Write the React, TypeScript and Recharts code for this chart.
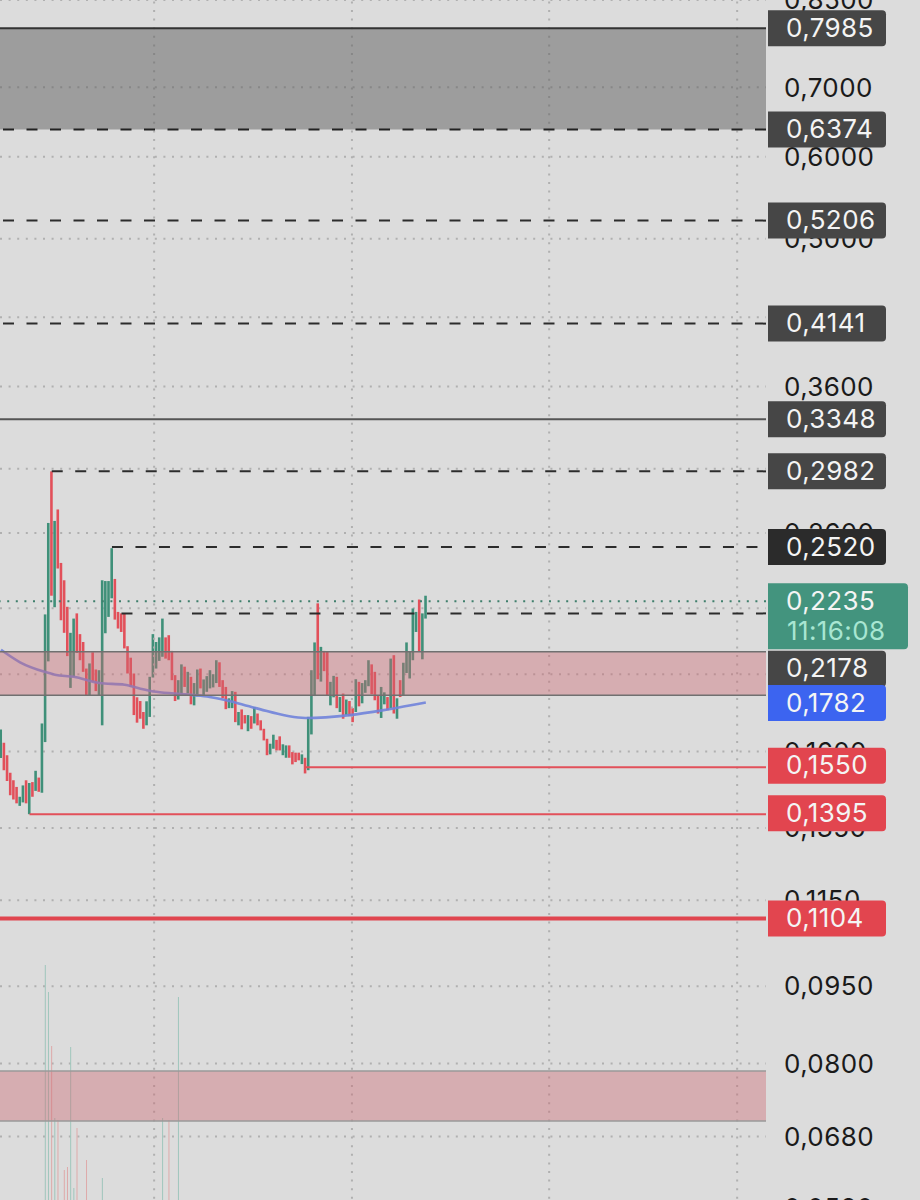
import React from 'react'
import { Bar, CartesianGrid, Cell, ComposedChart, Line, ReferenceArea, ReferenceLine, XAxis, YAxis } from 'recharts'

// prices, one entry per bar, oldest first
const candleHigh = [
  0.1680, 0.1632, 0.1587, 0.1526, 0.1501, 0.1479, 0.1447, 0.1484, 0.1501, 0.1492,
  0.1495, 0.1533, 0.1510, 0.1703, 0.2170, 0.2659, 0.2982, 0.2671, 0.2740, 0.2433,
  0.2341, 0.2207, 0.2083, 0.2150, 0.2175, 0.2077, 0.2041, 0.1924, 0.1946, 0.1995,
  0.1920, 0.1917, 0.2341, 0.2337, 0.2337, 0.2514, 0.2348, 0.2182, 0.2175, 0.2175,
  0.2022, 0.1971, 0.1903, 0.1805, 0.1790, 0.1747, 0.1789, 0.1889, 0.2077, 0.2041,
  0.2062, 0.2150, 0.2062, 0.2072, 0.2001, 0.1896, 0.1875, 0.1942, 0.1932, 0.1910,
  0.1889, 0.1863, 0.1920, 0.1924, 0.1878, 0.1892, 0.1917, 0.1900, 0.1960, 0.1951,
  0.1875, 0.1847, 0.1801, 0.1830, 0.1827, 0.1747, 0.1757, 0.1735, 0.1735, 0.1731,
  0.1766, 0.1741, 0.1715, 0.1683, 0.1646, 0.1628, 0.1661, 0.1642, 0.1655, 0.1626,
  0.1622, 0.1622, 0.1598, 0.1596, 0.1596, 0.1590, 0.1578, 0.1728, 0.1917, 0.2039,
  0.2224, 0.2019, 0.2001, 0.1997, 0.1868, 0.1893, 0.1889, 0.1806, 0.1820, 0.1796,
  0.1790, 0.1762, 0.1879, 0.1868, 0.1863, 0.1875, 0.1960, 0.1942, 0.1910, 0.1813,
  0.1847, 0.1825, 0.1806, 0.1967, 0.1982, 0.1801, 0.1875, 0.1949, 0.2039, 0.1997,
  0.2199, 0.2182, 0.2243, 0.2175, 0.2262,
]
const candleLow = [
  0.1577, 0.1535, 0.1499, 0.1452, 0.1438, 0.1426, 0.1418, 0.1429, 0.1426, 0.1392,
  0.1447, 0.1466, 0.1463, 0.1460, 0.1634, 0.1955, 0.2262, 0.2205, 0.2403, 0.2142,
  0.2083, 0.1978, 0.1843, 0.1889, 0.1992, 0.1960, 0.1910, 0.1813, 0.1813, 0.1868,
  0.1830, 0.1813, 0.1696, 0.2081, 0.2158, 0.2249, 0.2145, 0.2103, 0.2087, 0.2012,
  0.1903, 0.1847, 0.1735, 0.1706, 0.1721, 0.1683, 0.1696, 0.1728, 0.1886, 0.1924,
  0.1957, 0.1975, 0.1967, 0.1960, 0.1875, 0.1790, 0.1796, 0.1817, 0.1847, 0.1820,
  0.1777, 0.1773, 0.1809, 0.1841, 0.1813, 0.1827, 0.1841, 0.1845, 0.1863, 0.1847,
  0.1801, 0.1758, 0.1762, 0.1762, 0.1708, 0.1696, 0.1681, 0.1703, 0.1674, 0.1683,
  0.1703, 0.1696, 0.1677, 0.1640, 0.1587, 0.1590, 0.1610, 0.1604, 0.1604, 0.1587,
  0.1578, 0.1578, 0.1555, 0.1563, 0.1569, 0.1556, 0.1524, 0.1535, 0.1662, 0.1810,
  0.1879, 0.1869, 0.1913, 0.1813, 0.1773, 0.1805, 0.1762, 0.1747, 0.1721, 0.1735,
  0.1731, 0.1708, 0.1747, 0.1769, 0.1781, 0.1823, 0.1850, 0.1817, 0.1793, 0.1741,
  0.1724, 0.1777, 0.1754, 0.1762, 0.1741, 0.1721, 0.1806, 0.1813, 0.1905, 0.1882,
  0.1960, 0.2087, 0.1997, 0.1964, 0.2150,
]
const candleSide = 'grrrrrggrgrgrgggrgrrrrggrrrrgrrgggggrrrrrrrrrrggggggrrrrggrgrggrgggggrrrggrgrrgrgrrrrggrrggrrrrgrgggrgrrggrgrgrrgrgggrrrggrgrgrgggggrgg'.split('')

// moving average, read at a few bars only
const maBars = [0, 6, 14, 17, 23, 31, 39, 44, 49, 58, 65, 71, 80, 96, 110, 122, 134]
const maPrices = [0.2006, 0.1951, 0.1909, 0.1898, 0.1889, 0.1863, 0.1856, 0.1840, 0.1827, 0.1817, 0.1808, 0.1793, 0.1763, 0.1724, 0.1735, 0.1757, 0.1784]

// only the volume bars tall enough to show above the bottom edge
const volumeBars = [14, 15, 16, 17, 18, 20, 21, 22, 23, 24, 27, 32, 51, 53, 56]
const volumeValues = [251, 224, 170, 98, 96, 46, 49, 169, 28, 88, 56, 38, 98, 96, 219]

const priceTicks = [0.85, 0.7, 0.6, 0.5, 0.42, 0.36, 0.3, 0.26, 0.22, 0.19, 0.16, 0.135, 0.115, 0.095, 0.08, 0.068, 0.058]
const timeTicks = [48.3, 110.7, 172.9, 232.2]

const X_MIN = -0.315
const X_MAX = 241.3
const Y_DOMAIN = [0.057, 0.85]

const rows = candleHigh.map((high, i) => ({
  bar: i,
  range: [candleLow[i], high],
  side: candleSide[i],
  volume: volumeBars.includes(i) ? volumeValues[volumeBars.indexOf(i)] : 0,
}))
const maRows = maBars.map((bar, i) => ({ bar, ma: maPrices[i] }))

const fmt = (v: number) => v.toFixed(4).replace('.', ',')

const FONT = 'Inter, sans-serif'
const MARGIN = { top: 0, right: 0, bottom: 0, left: 0 }

function Badge({ viewBox, value, bg, dy = 0, sub }: any) {
  const x = viewBox.x + viewBox.width + 2
  const mid = viewBox.y + dy
  if (sub) {
    return (
      <g>
        <path d={`M${x} ${mid - 18}h136a4 4 0 0 1 4 4v58a4 4 0 0 1 -4 4h-136z`} fill={bg} />
        <text x={x + 18} y={mid + 8.5} fill='#f4f4f4' fontSize={26} letterSpacing={0.4} fontFamily={FONT}>{fmt(value)}</text>
        <text x={x + 19} y={mid + 38.5} fill='#a8e6d2' fontSize={26} letterSpacing={0.4} fontFamily={FONT}>{sub}</text>
      </g>
    )
  }
  return (
    <g>
      <path d={`M${x} ${mid - 18}h114a4 4 0 0 1 4 4v28a4 4 0 0 1 -4 4h-114z`} fill={bg} />
      <text x={x + 18} y={mid + 8.5} fill='#f4f4f4' fontSize={26} letterSpacing={0.4} fontFamily={FONT}>{fmt(value)}</text>
    </g>
  )
}

function App() {
  return (
    <div style={{ position: 'absolute', left: 0, top: 0, width: 920, height: 1200, overflow: 'hidden', background: '#dcdcdc' }}>
      <div style={{ position: 'absolute', left: 0, top: 0 }}>
        <ComposedChart width={920} height={1216} data={rows} margin={MARGIN}>
          <CartesianGrid vertical={false} stroke='#b0b0b0' strokeWidth={2} strokeDasharray='2 6.6' xAxisId={0} yAxisId={0} />
          <XAxis xAxisId={0} dataKey='bar' type='number' domain={[X_MIN, X_MAX]} allowDataOverflow height={0} tick={false} axisLine={false} tickLine={false} />
          <XAxis xAxisId='volx' dataKey='bar' type='number' domain={[X_MIN, X_MAX]} hide />
          <YAxis
            yAxisId={0}
            orientation='right'
            width={154}
            scale='log'
            domain={Y_DOMAIN}
            allowDataOverflow
            ticks={priceTicks}
            interval={0}
            tickFormatter={fmt}
            axisLine={false}
            tickLine={false}
            tickMargin={12}
            tick={{ fill: '#1a1a1a', fontSize: 26, letterSpacing: 0.4, fontFamily: FONT }}
          />
          <YAxis yAxisId='vol' hide domain={[0, 1216]} />

          {timeTicks.map((t) => (
            <ReferenceLine key={t} x={t} stroke='#b0b0b0' strokeWidth={2} strokeDasharray='2 6.6' />
          ))}

          <Bar xAxisId='volx' yAxisId='vol' dataKey='volume' barSize={1} isAnimationActive={false}>
            {rows.map((r) => (
              <Cell key={r.bar} fill={r.side === 'g' ? '#9fc6bc' : '#deaaaa'} />
            ))}
          </Bar>
          <Bar xAxisId={0} yAxisId={0} dataKey='range' barSize={2.6} isAnimationActive={false}>
            {rows.map((r) => (
              <Cell key={r.bar} fill={r.side === 'g' ? '#3f9079' : '#e2505a'} />
            ))}
          </Bar>
          <Line xAxisId={0} yAxisId={0} data={maRows} dataKey='ma' type='monotone' stroke='#7083da' strokeWidth={2.6} strokeOpacity={0.9} dot={false} activeDot={false} isAnimationActive={false} />

          <ReferenceLine y={0.5206} stroke='#2c2c2c' strokeWidth={2} strokeDasharray='11 12.5' />
          <ReferenceLine y={0.4141} stroke='#2c2c2c' strokeWidth={2} strokeDasharray='11 12.5' />
          <ReferenceLine y={0.3348} stroke='#555' strokeWidth={2} />
          <ReferenceLine segment={[{ x: 16, y: 0.2982 }, { x: X_MAX, y: 0.2982 }]} stroke='#2c2c2c' strokeWidth={2} strokeDasharray='11 12.5' />
          <ReferenceLine segment={[{ x: 35, y: 0.252 }, { x: X_MAX, y: 0.252 }]} stroke='#2c2c2c' strokeWidth={2} strokeDasharray='11 12.5' />
          <ReferenceLine segment={[{ x: 38, y: 0.2175 }, { x: X_MAX, y: 0.2175 }]} stroke='#2c2c2c' strokeWidth={2} strokeDasharray='11 12.5' />
          <ReferenceLine y={0.2235} stroke='#3f7f6c' strokeWidth={2} strokeDasharray='2 6.6' />
          <ReferenceLine segment={[{ x: 96, y: 0.1545 }, { x: X_MAX, y: 0.1545 }]} stroke='#e2505a' strokeWidth={2} />
          <ReferenceLine segment={[{ x: 9, y: 0.1392 }, { x: X_MAX, y: 0.1392 }]} stroke='#e2505a' strokeWidth={2} />
          <ReferenceLine y={0.1104} stroke='#e0454f' strokeWidth={4} />
        </ComposedChart>
      </div>

      {/* second chart on the same scales: zones sit over the candles, badges over the tick labels */}
      <div style={{ position: 'absolute', left: 0, top: 0 }}>
        <ComposedChart width={920} height={1216} data={rows} margin={MARGIN}>
          <XAxis dataKey='bar' type='number' domain={[X_MIN, X_MAX]} allowDataOverflow height={0} tick={false} axisLine={false} tickLine={false} />
          <YAxis orientation='right' width={154} scale='log' domain={Y_DOMAIN} allowDataOverflow tick={false} axisLine={false} tickLine={false} />

          <ReferenceArea y1={0.6374} y2={0.7985} fill='#5e5e5e' fillOpacity={0.5} stroke='none' />
          <ReferenceArea y1={0.1813} y2={0.1997} fill='#cc6670' fillOpacity={0.4} stroke='none' />
          <ReferenceArea y1={0.07038} y2={0.07865} fill='#cc6670' fillOpacity={0.4} stroke='none' />

          <ReferenceLine y={0.7985} stroke='#333' strokeWidth={2} />
          <ReferenceLine y={0.6374} stroke='#222' strokeWidth={2} strokeDasharray='11 12.5' />
          <ReferenceLine y={0.1997} stroke='#707070' strokeWidth={1.5} />
          <ReferenceLine y={0.1813} stroke='#707070' strokeWidth={1.5} />
          <ReferenceLine y={0.07865} stroke='#9a9a9a' strokeWidth={1.5} />
          <ReferenceLine y={0.07038} stroke='#9a9a9a' strokeWidth={1.5} />

          <ReferenceLine y={0.7985} stroke='none' label={<Badge value={0.7985} bg='#464646' />} />
          <ReferenceLine y={0.6374} stroke='none' label={<Badge value={0.6374} bg='#464646' />} />
          <ReferenceLine y={0.5206} stroke='none' label={<Badge value={0.5206} bg='#464646' />} />
          <ReferenceLine y={0.4141} stroke='none' label={<Badge value={0.4141} bg='#464646' />} />
          <ReferenceLine y={0.3348} stroke='none' label={<Badge value={0.3348} bg='#464646' />} />
          <ReferenceLine y={0.2982} stroke='none' label={<Badge value={0.2982} bg='#464646' />} />
          <ReferenceLine y={0.252} stroke='none' label={<Badge value={0.252} bg='#2b2b2b' />} />
          <ReferenceLine y={0.2235} stroke='none' label={<Badge value={0.2235} bg='#43947e' sub='11:16:08' />} />
          <ReferenceLine y={0.2178} stroke='none' label={<Badge value={0.2178} bg='#464646' dy={56} />} />
          <ReferenceLine y={0.1782} stroke='none' label={<Badge value={0.1782} bg='#3c64f0' />} />
          <ReferenceLine y={0.155} stroke='none' label={<Badge value={0.155} bg='#e2454f' />} />
          <ReferenceLine y={0.1395} stroke='none' label={<Badge value={0.1395} bg='#e2454f' />} />
          <ReferenceLine y={0.1104} stroke='none' label={<Badge value={0.1104} bg='#e2454f' />} />
        </ComposedChart>
      </div>
    </div>
  )
}

export default App
